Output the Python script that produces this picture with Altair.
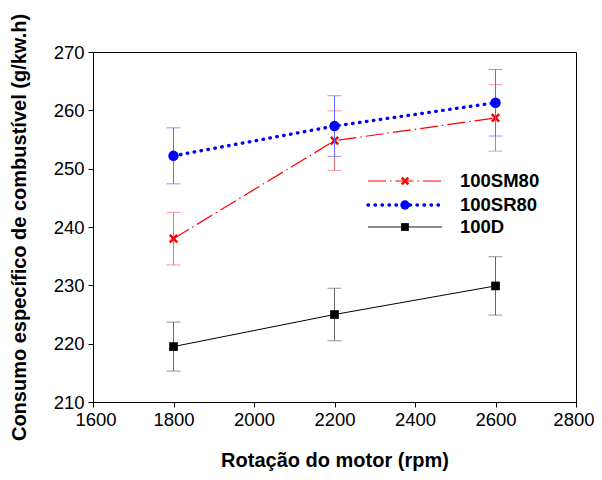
import altair as alt
import pandas as pd

rpm = [1800, 2200, 2600]
series = ["100SM80", "100SR80", "100D"]
sm80 = [238.0, 254.8, 258.7]
sm80_err = [4.5, 5.1, 5.7]
sr80 = [252.2, 257.3, 261.3]
sr80_err = [4.8, 5.2, 5.7]
d100 = [219.5, 225.0, 229.9]
d100_err = [4.2, 4.5, 5.0]

x_ticks = [1600, 1800, 2000, 2200, 2400, 2600, 2800]
y_ticks = [210, 220, 230, 240, 250, 260, 270]

FONT = "Liberation Sans"

def frame(vals, errs, name):
    return pd.DataFrame({
        "rpm": rpm,
        "value": vals,
        "lo": [v - e for v, e in zip(vals, errs)],
        "hi": [v + e for v, e in zip(vals, errs)],
        "series": name,
    })

xs = alt.Scale(domain=[1600, 2800], nice=False)
ys = alt.Scale(domain=[210, 270], nice=False)
X = alt.X("rpm:Q", scale=xs, axis=alt.Axis(values=x_ticks, title="Rotação do motor (rpm)", titlePadding=22,
                                           format="d", labelFlush=True, labelFlushOffset=18, labelPadding=3))
Y = alt.Y("value:Q", scale=ys, axis=alt.Axis(values=y_ticks, title="Consumo específico de combustível (g/kw.h)",
                                             titlePadding=24, labelFlush=False, labelPadding=4))

styles = {
    "100SM80": dict(color="#ff0000", err="#f07070", dash=[18, 4, 1.5, 4], width=1.2,
                    shape="M-1,-1L1,1M-1,1L1,-1", filled=False, size=55, sw=2.5, cap="butt"),
    "100SR80": dict(color="#0000ff", err="#6868ff", dash=[0.5, 6.5], width=3.4,
                    shape="circle", filled=True, size=110, sw=0, cap="round"),
    "100D": dict(color="#000000", err="#666666", dash=[], width=1,
                 shape="square", filled=True, size=75, sw=0, cap="butt"),
}
data = {"100SM80": (sm80, sm80_err), "100SR80": (sr80, sr80_err), "100D": (d100, d100_err)}

layers = []
legend_y = {"100SM80": 129, "100SR80": 153, "100D": 175}
for name in ["100D", "100SM80", "100SR80"]:
    st = styles[name]
    df = frame(*data[name], name)
    base = alt.Chart(df)
    layers.append(base.mark_rule(color=st["err"], strokeWidth=1).encode(
        x=X, y=alt.Y("lo:Q", scale=ys), y2="hi:Q"))
    layers.append(base.mark_tick(color=st["err"], orient="horizontal", size=14, thickness=1).encode(
        x=X, y=alt.Y("lo:Q", scale=ys)))
    layers.append(base.mark_tick(color=st["err"], orient="horizontal", size=14, thickness=1).encode(
        x=X, y=alt.Y("hi:Q", scale=ys)))
    line_kw = dict(color=st["color"], strokeWidth=st["width"], strokeCap=st["cap"])
    if st["dash"]:
        line_kw["strokeDash"] = st["dash"]
    layers.append(base.mark_line(**line_kw).encode(x=X, y=Y))
    pt_kw = dict(shape=st["shape"], filled=st["filled"], size=st["size"], color=st["color"], opacity=1)
    if not st["filled"]:
        pt_kw["strokeWidth"] = st["sw"]
    layers.append(base.mark_point(**pt_kw).encode(x=X, y=Y))

# legend
for name in series:
    st = styles[name]
    ly = legend_y[name]
    lg = pd.DataFrame({"series": [name]})
    b = alt.Chart(lg)
    rule_kw = dict(color=st["color"] if name != "100D" else "#666666",
                   strokeWidth=st["width"] if name != "100D" else 1.5,
                   strokeCap=st["cap"])
    if st["dash"]:
        rule_kw["strokeDash"] = st["dash"]
    layers.append(b.mark_rule(**rule_kw).encode(x=alt.value(275), x2=alt.value(349), y=alt.value(ly)))
    pt_kw = dict(shape=st["shape"], filled=st["filled"], size=st["size"] * 0.8, color=st["color"], opacity=1)
    if not st["filled"]:
        pt_kw["strokeWidth"] = st["sw"]
    layers.append(b.mark_point(**pt_kw).encode(x=alt.value(312), y=alt.value(ly)))
    layers.append(b.mark_text(align="left", baseline="middle", font=FONT, fontSize=18.5,
                              fontWeight="bold", color="#000000").encode(
        x=alt.value(367), y=alt.value(ly), text="series:N"))

chart = alt.layer(*layers).properties(
    width=483, height=350,
    autosize=alt.AutoSizeParams(type="none"),
    padding={"left": 85, "top": 44, "right": 18, "bottom": 70},
).configure_view(stroke="#000000", strokeWidth=1).configure_axis(
    grid=False, domainColor="#000000", tickColor="#000000", labelColor="#000000",
    titleColor="#000000", tickSize=5, labelFontSize=18.5, titleFontSize=20,
    titleFontWeight="bold", labelFont=FONT, titleFont=FONT,
)

chart.save("out.html", embed_options={"renderer": "svg", "actions": False})
